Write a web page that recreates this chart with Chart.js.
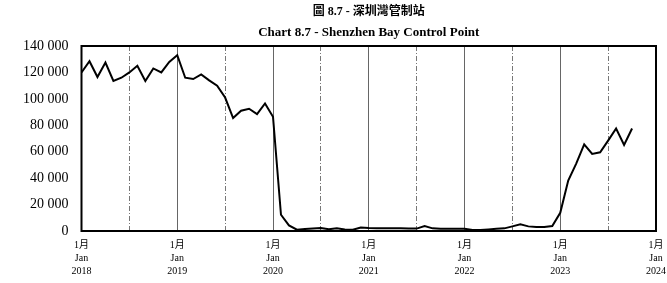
<!DOCTYPE html>
<html lang="zh-Hant">
<head>
    <meta charset="UTF-8">
    <title>Shenzhen Bay Control Point</title>
    <script src="https://cdn.jsdelivr.net/npm/chart.js"></script>
    <style>
        html, body { margin: 0; padding: 0; background: #fff; }
        #wrap { width: 667px; height: 283px; position: relative; }
    </style>
</head>
<body>
    <div id="wrap"><canvas id="chart"></canvas></div>

    <script>
        // monthly values, Jan 2018 .. Oct 2023
        const startYear = 2018;
        const values = [
            120000, 128500, 116500, 127500, 113500, 116000, 120000, 125000, 113500, 123000, 120000, 128000,
            133000, 116000, 115000, 118500, 114000, 110000, 101000, 85500, 91000, 92500, 88500, 96500,
            86500, 12300, 4200, 1000, 1500, 1800, 2200, 1400, 2000, 1200, 1000, 2700,
            2200, 2000, 2000, 2000, 2000, 1900, 1800, 3700, 2000, 1700, 1700, 1700,
            1700, 700, 700, 1200, 1700, 2000, 3500, 5000, 3500, 3000, 3000, 3700,
            13800, 38200, 51000, 65600, 58300, 59600, 68400, 77600, 65100, 77600
        ];
        const yearTicks = [0, 12, 24, 36, 48, 60, 72];
        const midYearTicks = [6, 18, 30, 42, 54, 66];
        const yTicks = [0, 20000, 40000, 60000, 80000, 100000, 120000, 140000];

        const serif = "'Liberation Serif', 'Noto Sans CJK TC', serif";
        const points = values.map((v, i) => ({ x: i, y: v }));

        // frame around the plot area
        const frame = {
            id: 'frame',
            afterDraw(chart) {
                const a = chart.chartArea, ctx = chart.ctx;
                ctx.save();
                ctx.strokeStyle = '#000';
                ctx.lineWidth = 2;
                ctx.strokeRect(a.left, a.top, a.right - a.left, a.bottom - a.top);
                ctx.restore();
            }
        };

        new Chart(document.getElementById('chart'), {
            type: 'line',
            data: {
                datasets: [{
                    data: points,
                    borderColor: '#000',
                    borderWidth: 2,
                    pointRadius: 0,
                    tension: 0
                }]
            },
            options: {
                responsive: true,
                maintainAspectRatio: false,
                animation: false,
                layout: { padding: { left: 10, right: 0, top: 2, bottom: -3 } },
                plugins: {
                    legend: { display: false },
                    tooltip: { enabled: false },
                    title: {
                        display: true,
                        text: '圖 8.7 - 深圳灣管制站',
                        fullSize: false,
                        color: '#000',
                        font: { family: serif, size: 12, weight: 'bold' },
                        padding: { top: 3, bottom: 5 }
                    },
                    subtitle: {
                        display: true,
                        text: 'Chart 8.7 - Shenzhen Bay Control Point',
                        fullSize: false,
                        color: '#000',
                        font: { family: serif, size: 13, weight: 'bold' },
                        padding: { top: 0, bottom: 6 }
                    }
                },
                scales: {
                    x: {
                        type: 'linear',
                        min: 0,
                        max: 72,
                        afterBuildTicks: (s) => { s.ticks = yearTicks.map(v => ({ value: v })); },
                        afterFit: (s) => { s.paddingRight = 11; },
                        ticks: {
                            color: '#000',
                            padding: 8,
                            maxRotation: 0,
                            autoSkip: false,
                            font: { family: serif, size: 10, lineHeight: 1.3 },
                            callback: (v) => ['1月', 'Jan', String(startYear + v / 12)]
                        },
                        grid: { color: '#666', lineWidth: 1, drawTicks: false },
                        border: { display: false }
                    },
                    x2: {
                        type: 'linear',
                        position: 'top',
                        min: 0,
                        max: 72,
                        afterBuildTicks: (s) => { s.ticks = midYearTicks.map(v => ({ value: v })); },
                        ticks: { display: false },
                        grid: { color: '#777', lineWidth: 1, drawTicks: false },
                        border: { display: false, dash: [5, 2, 1, 2] }
                    },
                    y: {
                        min: 0,
                        max: 140000,
                        afterBuildTicks: (s) => { s.ticks = yTicks.map(v => ({ value: v })); },
                        ticks: {
                            color: '#000',
                            padding: 13,
                            font: { family: serif, size: 14 },
                            callback: (v) => String(v).replace(/\B(?=(\d{3})+(?!\d))/g, ' ')
                        },
                        grid: { display: false, drawTicks: false },
                        border: { display: false }
                    }
                }
            },
            plugins: [frame]
        });
    </script>
</body>
</html>
